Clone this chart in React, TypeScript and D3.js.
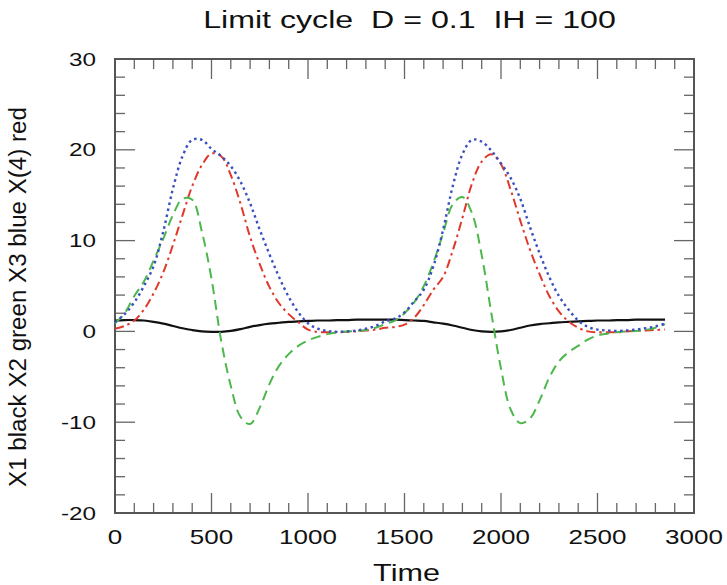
import React, { useEffect, useRef } from "react";
import * as d3 from "d3";

const TIME = [
  0, 50, 100, 150, 200, 250, 300, 350, 400, 450, 500, 550, 600, 650, 700, 750, 800, 850, 900, 950,
  1000, 1050, 1100, 1150, 1200, 1250, 1300, 1350, 1400, 1450, 1500, 1550, 1600, 1650, 1700, 1750,
  1800, 1850, 1900, 1950, 2000, 2050, 2100, 2150, 2200, 2250, 2300, 2350, 2400, 2450, 2500, 2550,
  2600, 2650, 2700, 2750, 2800, 2850,
];

const X1_BLACK = [
  1.2, 1.25, 1.25, 1.2, 1.05, 0.85, 0.6, 0.35, 0.15, 0.0, -0.05, -0.05, 0.05, 0.25, 0.5, 0.7, 0.85, 0.95, 1.05, 1.1,
  1.15, 1.2, 1.2, 1.25, 1.25, 1.3, 1.3, 1.3, 1.3, 1.3, 1.25, 1.2, 1.15, 1.0, 0.85, 0.65,
  0.4, 0.15, 0.0, -0.05, 0.0, 0.15, 0.4, 0.65, 0.8, 0.9, 1.0, 1.05, 1.1, 1.15, 1.2, 1.2,
  1.25, 1.25, 1.3, 1.3, 1.3, 1.3,
];

const X2_GREEN = [
  0.9, 2.0, 3.9, 5.5, 7.8, 10.2, 12.8, 14.6, 14.5, 11.0, 5.8, -1.0, -6.0, -9.4, -10.2, -8.4, -5.8, -3.8, -2.5, -1.6,
  -1.0, -0.6, -0.3, -0.1, 0.0, 0.05, 0.15, 0.4, 0.8, 1.2, 2.0, 3.2, 5.0, 7.6, 10.8, 14.0,
  14.8, 13.0, 8.4, 2.0, -4.1, -8.6, -10.1, -9.6, -7.6, -5.1, -3.3, -2.3, -1.6, -0.9, -0.45, -0.25,
  -0.1, 0.0, 0.05, 0.15, 0.4, 0.8,
];

const X3_BLUE = [
  1.0, 1.9, 3.2, 5.0, 7.2, 11.0, 15.7, 19.3, 21.1, 21.1, 20.1, 19.3, 18.2, 16.5, 14.1, 11.2, 8.5, 6.0, 3.8, 2.1,
  0.9, 0.3, 0.05, -0.05, 0.0, 0.1, 0.3, 0.6, 1.1, 1.4, 2.1, 3.3, 4.6, 7.2, 11.2, 16.0,
  19.5, 21.1, 20.9, 19.9, 18.5, 16.9, 14.6, 11.5, 8.6, 6.0, 3.9, 2.4, 1.2, 0.5, 0.2, 0.1,
  0.05, 0.1, 0.2, 0.35, 0.55, 0.85,
];

const X4_RED = [
  0.3, 0.6, 1.2, 2.4, 4.2, 6.5, 9.5, 12.8, 16.0, 18.3, 19.6, 19.3, 17.2, 14.1, 10.4, 7.4, 4.9, 3.1, 1.9, 1.0,
  0.2, -0.05, -0.1, -0.1, -0.05, 0.0, 0.1, 0.2, 0.4, 0.5, 0.75, 1.5, 2.9, 4.6, 6.0, 8.9,
  12.5, 16.3, 18.7, 19.5, 18.4, 15.6, 12.2, 9.0, 6.3, 3.9, 2.2, 1.1, 0.4, 0.0, -0.1, -0.1,
  -0.1, 0.0, 0.05, 0.1, 0.15, 0.2,
];

const X_TICKS = [0, 500, 1000, 1500, 2000, 2500, 3000];
const Y_TICKS = [-20, -10, 0, 10, 20, 30];

const TITLE = "Limit cycle  D = 0.1  IH = 100";
const X_LABEL = "Time";
const Y_LABEL = "X1 black X2 green X3 blue X(4) red";

const W = 727;
const H = 585;
const M = { left: 115, right: 694, top: 59, bottom: 513 };

export default function App() {
  const ref = useRef<SVGSVGElement | null>(null);

  useEffect(() => {
    const svg = d3.select(ref.current);
    svg.selectAll("*").remove();

    const x = d3.scaleLinear().domain([0, 3000]).range([M.left, M.right]);
    const y = d3.scaleLinear().domain([-20, 30]).range([M.bottom, M.top]);

    const font = "'Liberation Sans', Arial, Helvetica, sans-serif";
    const axisColor = "#666";

    const g = svg.append("g");
    const xMinor = d3.range(0, 3001, 100);
    const yMinor = d3.range(-20, 30.001, 2);
    xMinor.forEach((t) => {
      const major = t % 500 === 0;
      const len = major ? 20 : 10;
      g.append("line").attr("x1", x(t)).attr("x2", x(t)).attr("y1", M.bottom).attr("y2", M.bottom - len)
        .attr("stroke", axisColor).attr("stroke-width", 1.3);
      g.append("line").attr("x1", x(t)).attr("x2", x(t)).attr("y1", M.top).attr("y2", M.top + len)
        .attr("stroke", axisColor).attr("stroke-width", 1.3);
    });
    yMinor.forEach((v) => {
      const major = Math.abs(v % 10) < 1e-6;
      const len = major ? 20 : 10;
      g.append("line").attr("x1", M.left).attr("x2", M.left + len).attr("y1", y(v)).attr("y2", y(v))
        .attr("stroke", axisColor).attr("stroke-width", 1.3);
      g.append("line").attr("x1", M.right).attr("x2", M.right - len).attr("y1", y(v)).attr("y2", y(v))
        .attr("stroke", axisColor).attr("stroke-width", 1.3);
    });

    svg.append("rect")
      .attr("x", M.left).attr("y", M.top)
      .attr("width", M.right - M.left).attr("height", M.bottom - M.top)
      .attr("fill", "none").attr("stroke", "#555").attr("stroke-width", 2);

    const addText = (tx: number, ty: number, s: string, size: number, sx: number, anchor: string, rot = 0) => {
      svg.append("text")
        .attr("transform", `translate(${tx},${ty}) rotate(${rot}) scale(${sx},1)`)
        .attr("text-anchor", anchor)
        .attr("font-family", font)
        .attr("font-size", size)
        .attr("fill", "#111")
        .style("white-space", "pre")
        .text(s);
    };

    X_TICKS.forEach((t) => addText(x(t), 544, String(t), 20, 1.3, "middle"));
    Y_TICKS.forEach((v) => addText(96, y(v) + 6.5, String(v), 18, 1.35, "end"));

    addText((M.left + M.right) / 2 + 5, 28, TITLE, 24, 1.34, "middle");
    addText((M.left + M.right) / 2 + 2, 581, X_LABEL, 23, 1.33, "middle");
    addText(26, 297, Y_LABEL, 23, 1.05, "middle", -90);

    const series = [
      { values: X1_BLACK, color: "#111", dash: null, width: 2.2 },
      { values: X4_RED, color: "#e0392b", dash: "9,4,2.5,4", width: 2 },
      { values: X2_GREEN, color: "#4cb84c", dash: "10,6", width: 2 },
      { values: X3_BLUE, color: "#3a4fc0", dash: "2.5,3.5", width: 2.4 },
    ];

    const line = d3.line<number>()
      .x((_, i) => x(TIME[i]))
      .y((d) => y(d))
      .curve(d3.curveCatmullRom.alpha(0.5));

    series.forEach((s) => {
      const p = svg.append("path")
        .attr("d", line(s.values) || "")
        .attr("fill", "none")
        .attr("stroke", s.color)
        .attr("stroke-width", s.width);
      if (s.dash) p.attr("stroke-dasharray", s.dash);
    });
  }, []);

  return (
    <svg
      ref={ref}
      width={W}
      height={H}
      style={{ position: "absolute", left: 0, top: 0, background: "#fff" }}
    />
  );
}
